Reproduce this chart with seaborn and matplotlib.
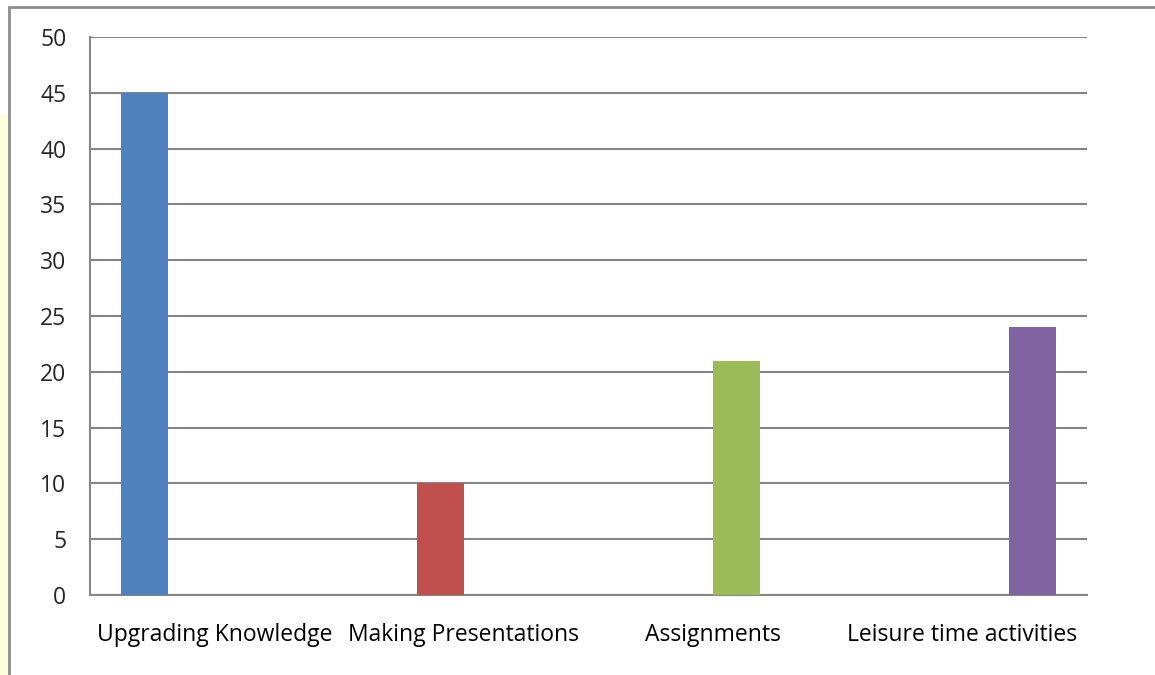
import matplotlib
matplotlib.use("Agg")
import matplotlib.pyplot as plt
import seaborn as sns
import pandas as pd
from matplotlib.lines import Line2D
from matplotlib.patches import Rectangle

categories = ["Upgrading Knowledge", "Making Presentations", "Assignments", "Leisure time activities"]
values = [45, 10, 21, 24]
colors = ["#4F81BD", "#C0504D", "#9BBB59", "#8064A2"]
yticks = [0, 5, 10, 15, 20, 25, 30, 35, 40, 45, 50]

sns.set_style("white")
plt.rcParams['font.family'] = ['Open Sans', 'DejaVu Sans']

W, H = 1155, 675
fig = plt.figure(figsize=(W / 100, H / 100), dpi=100)
ax = fig.add_axes([90 / W, 1 - 595 / H, (1087 - 90) / W, (595 - 37) / H])

df = pd.DataFrame({"Category": categories, "Value": values})
sns.barplot(data=df, x="Category", y="Value", hue="Category", palette=colors,
            dodge=True, width=0.75, legend=False, saturation=1, ax=ax,
            linewidth=0, edgecolor="none", zorder=3)

grid_c = "#868686"
ax.set_ylim(0, 50)
ax.set_xlim(-0.5, len(categories) - 0.5)
ax.set_yticks(yticks)
ax.set_yticklabels([str(v) for v in yticks])
ax.yaxis.grid(True, color=grid_c, linewidth=1.5, zorder=0)
ax.set_axisbelow(True)
ax.set_xlabel("")
ax.set_ylabel("")

# minor ticks at category boundaries on x axis, labels at centers
ax.set_xticks(range(len(categories)))
ax.set_xticklabels(categories)
ax.set_xticks([i - 0.5 for i in range(len(categories) + 1)], minor=True)
ax.tick_params(axis="x", which="major", length=0, pad=20, labelsize=16.5, colors="black")
ax.tick_params(axis="x", which="minor", length=5, width=1.5, color=grid_c)
ax.tick_params(axis="y", which="major", length=5, width=1.5, color=grid_c, pad=12, labelsize=16.5)

for s in ["top", "right"]:
    ax.spines[s].set_visible(False)
for s in ["left", "bottom"]:
    ax.spines[s].set_color(grid_c)
    ax.spines[s].set_linewidth(1.5)

# outer chart frame and yellow strip
fig.add_artist(Rectangle((0, 0), 8 / W, (H - 115) / H, transform=fig.transFigure,
                         facecolor="#FFFFDC", edgecolor="none"))
fig.add_artist(Line2D([9 / W, 9 / W], [0, 1 - 7 / H], transform=fig.transFigure,
                      color="#8C8C8C", linewidth=2))
fig.add_artist(Line2D([9 / W, 1], [1 - 7 / H, 1 - 7 / H], transform=fig.transFigure,
                      color="#8C8C8C", linewidth=2))

fig.savefig("out.png", dpi=100)
